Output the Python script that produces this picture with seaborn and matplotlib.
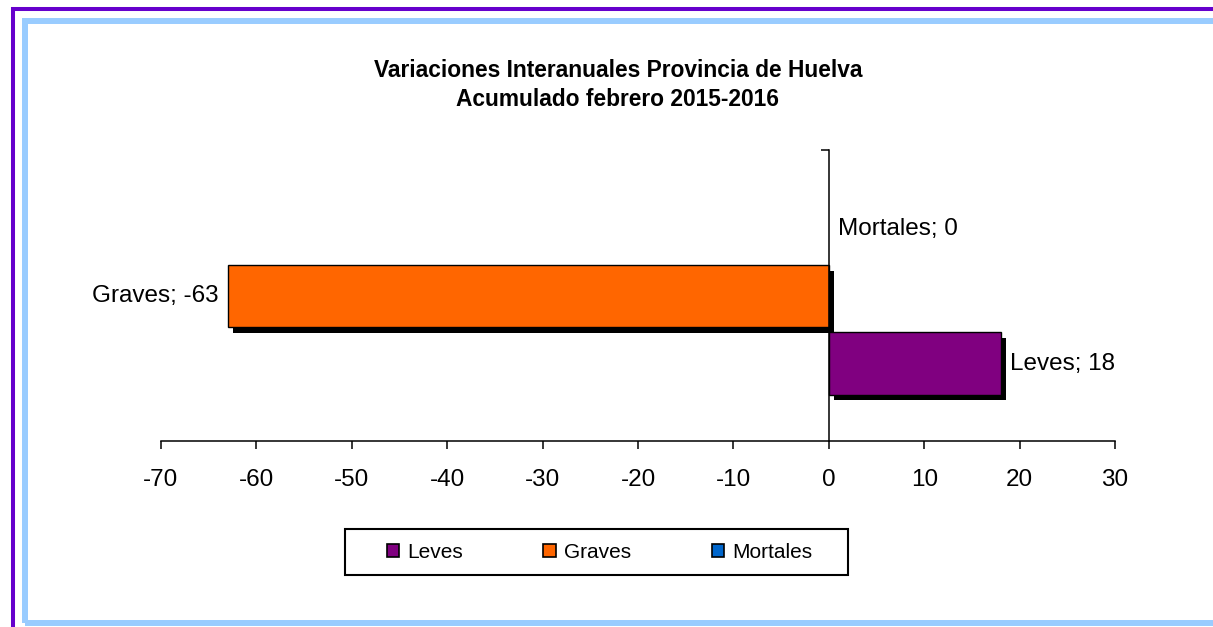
import numpy as np
import pandas as pd
import seaborn as sns
import matplotlib
matplotlib.use('Agg')
from matplotlib import pyplot as plt
from matplotlib import patheffects
from matplotlib.patches import Patch, Rectangle
from matplotlib.lines import Line2D

# Datos
series = ['Mortales', 'Graves', 'Leves']
valores = [0, -63, 18]
colores = ['#0066CC', '#FF6600', '#800080']
orden_leyenda = ['Leves', 'Graves', 'Mortales']
xticks = list(range(-70, 31, 10))
titulo = 'Variaciones Interanuales Provincia de Huelva\nAcumulado febrero 2015-2016'

df = pd.DataFrame({'serie': series, 'valor': valores})

sns.set_style('white')
plt.rcParams['font.family'] = ['Liberation Sans', 'DejaVu Sans']
plt.rcParams['text.color'] = 'black'
plt.rcParams['axes.labelcolor'] = 'black'

W, H = 1213, 627
fig = plt.figure(figsize=(W / 100, H / 100), dpi=100)
fig.patch.set_facecolor('white')

ax = fig.add_axes([161 / W, 1 - 441 / H, 954 / W, 291 / H])
sns.barplot(data=df, x='valor', y='serie', hue='serie', hue_order=series,
            palette=colores, saturation=1, orient='h', width=0.92, edgecolor='black',
            linewidth=1, legend=False, ax=ax)

# sombras de las barras
sombra = [patheffects.SimplePatchShadow(offset=(4, -4), shadow_rgbFace='black', alpha=1.0),
          patheffects.Normal()]
for p in ax.patches:
    if p.get_width() != 0:
        p.set_path_effects(sombra)
    else:
        p.set_linewidth(0)

# etiquetas de datos
for cont, s, v in zip(ax.containers, series, valores):
    ax.bar_label(cont, labels=[f'{s}; {v}'], padding=6.5, fontsize=17.5, color='black')

ax.set_xlim(-70, 30)
ytop, ybot = -1.163, 3.148
ax.set_ylim(ybot, ytop)
ax.set_xticks(xticks)
ax.set_xticklabels([str(t) for t in xticks])
ax.set_yticks([ytop])
ax.set_yticklabels([''])
ax.set_xlabel('')
ax.set_ylabel('')
ax.tick_params(axis='x', direction='out', length=6, width=1.1, labelsize=17.5, pad=14,
               bottom=True, colors='black')
ax.tick_params(axis='y', direction='out', length=6, width=1.1, left=True, colors='black')
for side in ['top', 'right']:
    ax.spines[side].set_visible(False)
ax.spines['left'].set_position(('data', 0))
for side in ['left', 'bottom']:
    ax.spines[side].set_linewidth(1.1)
    ax.spines[side].set_color('black')
ax.set_facecolor('none')

# titulo
fig.text(618 / W, 1 - 85 / H, titulo, ha='center', va='center', fontsize=16.4,
         fontweight='bold', linespacing=1.35, color='black')

# leyenda
handles = [Patch(facecolor=colores[series.index(s)], edgecolor='black', linewidth=1.2)
           for s in orden_leyenda]
fig.legend(handles, orden_leyenda, loc='center', bbox_to_anchor=(599.5 / W, 1 - 552 / H),
           ncol=3, frameon=False, fontsize=15, handlelength=0.6, handleheight=0.6,
           handletextpad=0.4, columnspacing=3.85, labelcolor='black')
fig.add_artist(Rectangle((345 / W, 1 - 575 / H), 503 / W, 46 / H, transform=fig.transFigure,
                         fill=False, edgecolor='black', linewidth=1.5))

# marcos
fig.add_artist(Rectangle((25 / W, 4 / H), 1300 / W, 602 / H, transform=fig.transFigure,
                         fill=False, edgecolor='#99CCFF', linewidth=4.3, clip_on=False))
fig.add_artist(Line2D([13 / W, 13 / W], [0, 1 - 7 / H], transform=fig.transFigure,
                      color='#6600CC', linewidth=2.9, solid_capstyle='butt'))
fig.add_artist(Line2D([11 / W, 1], [1 - 8.8 / H, 1 - 8.8 / H], transform=fig.transFigure,
                      color='#6600CC', linewidth=2.9, solid_capstyle='butt'))

fig.savefig('out.png', dpi=100)
